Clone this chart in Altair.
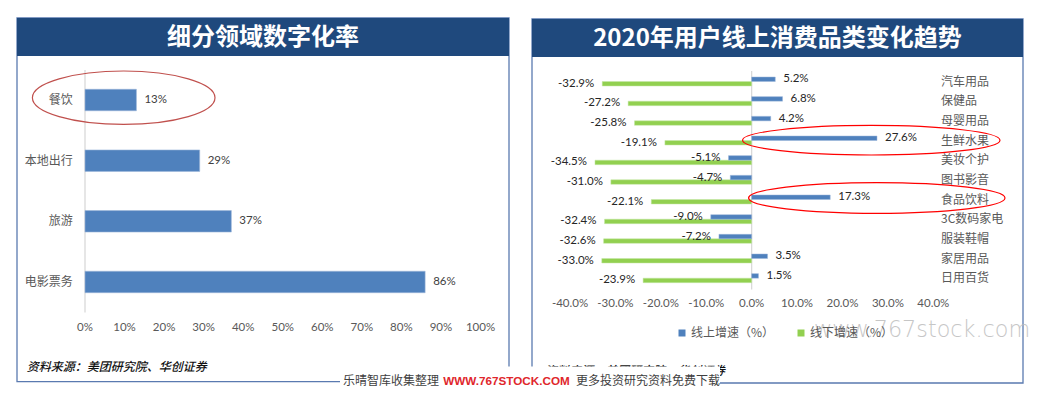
import altair as alt
import pandas as pd

# ---------------- data ----------------
left_categories = ["餐饮", "本地出行", "旅游", "电影票务"]
left_values = [13, 29, 37, 86]
left_ticks = [0, 10, 20, 30, 40, 50, 60, 70, 80, 90, 100]

right_categories = ["汽车用品", "保健品", "母婴用品", "生鲜水果", "美妆个护", "图书影音",
                    "食品饮料", "3C数码家电", "服装鞋帽", "家居用品", "日用百货"]
online_growth = [5.2, 6.8, 4.2, 27.6, -5.1, -4.7, 17.3, -9.0, -7.2, 3.5, 1.5]
offline_growth = [-32.9, -27.2, -25.8, -19.1, -34.5, -31.0, -22.1, -32.4, -32.6, -33.0, -23.9]
right_ticks = [-40, -30, -20, -10, 0, 10, 20, 30, 40]
series_names = ["线上增速（%）", "线下增速（%）"]

left_title = "细分领域数字化率"
right_title = "2020年用户线上消费品类变化趋势"
source_text = "资料来源：美团研究院、华创证券"
footer_a = "乐晴智库收集整理"
footer_b = "WWW.767STOCK.COM"
footer_c = "更多投资研究资料免费下载"
watermark = "www.767stock.com"

# ---------------- tables ----------------
left_df = pd.DataFrame({"cat": left_categories, "v": left_values,
                        "lab": [f"{v}%" for v in left_values]})
left_tick_df = pd.DataFrame({"t": left_ticks, "lab": [f"{t}%" for t in left_ticks]})
on_df = pd.DataFrame({"cat": right_categories, "v": online_growth, "s": series_names[0],
                      "lab": [f"{v:.1f}%" for v in online_growth]})
off_df = pd.DataFrame({"cat": right_categories, "v": offline_growth, "s": series_names[1],
                       "lab": [f"{v:.1f}%" for v in offline_growth]})
right_tick_df = pd.DataFrame({"t": right_ticks, "lab": [f"{t:.1f}%" for t in right_ticks]})
cat_df = pd.DataFrame({"cat": right_categories})
zero_df = pd.DataFrame({"v": [0]})
one = pd.DataFrame({"a": [0]})

CJK = "Noto Sans CJK SC"
NUM = "Lato"
BLUE = "#4F81BD"
GREEN = "#92D050"
NAVY = "#1F497D"
BORDER = "#5A7AB0"
GREY_TXT = "#595959"

# ---------------- scales ----------------
LX = alt.Scale(domain=[0, 100], range=[77, 472.5], nice=False)
LY = alt.Scale(domain=left_categories, range=[61.7, 304.3], paddingInner=0.646, paddingOuter=0.323)
RX = alt.Scale(domain=[-40, 40], range=[562, 925.3], nice=False)
r0, r1 = 63.67, 280.0
RY_slot = alt.Scale(domain=right_categories, range=[r0, r1], paddingInner=0.5, paddingOuter=0.25)
RY_on = alt.Scale(domain=right_categories, range=[r0 - 2.25, r1 - 2.25], paddingInner=0.771, paddingOuter=0.3855)
RY_off = alt.Scale(domain=right_categories, range=[r0 + 2.25, r1 + 2.25], paddingInner=0.771, paddingOuter=0.3855)
CS = alt.Scale(domain=series_names, range=[BLUE, GREEN])

layers = []

# panel borders
for x0, x1, y0, y1 in [(9, 501, 10, 373.7), (524, 1015, 11, 375)]:
    layers.append(alt.Chart(one).mark_rect(filled=False, stroke=BORDER, strokeWidth=1.3).encode(
        x=alt.value(x0), x2=alt.value(x1), y=alt.value(y0), y2=alt.value(y1)))
# title bars
for x0, x1, y0, y1 in [(9, 501, 10, 48), (524, 1015, 11, 49)]:
    layers.append(alt.Chart(one).mark_rect(color=NAVY).encode(
        x=alt.value(x0), x2=alt.value(x1), y=alt.value(y0), y2=alt.value(y1)))
for t, cx, cy in [(left_title, 255, 29.5), (right_title, 769.5, 30.5)]:
    layers.append(alt.Chart(one).mark_text(text=t, font=CJK, fontSize=24, fontWeight="bold",
                                           color="white", align="center", baseline="middle").encode(
        x=alt.value(cx), y=alt.value(cy)))

# ---------- left panel ----------
layers.append(alt.Chart(zero_df).mark_rule(color="#D9D9D9", strokeWidth=1.3).encode(
    x=alt.X("v:Q", scale=LX, axis=None), y=alt.value(62), y2=alt.value(304.5)))
layers.append(alt.Chart(left_df).mark_bar(color=BLUE, stroke="#9DB7DA", strokeWidth=0.6).encode(
    x=alt.X("v:Q", scale=LX, axis=None), y=alt.Y("cat:N", scale=LY, axis=None)))
layers.append(alt.Chart(left_df).mark_text(align="left", baseline="middle", dx=8, font=NUM,
                                           fontSize=11.5, color="#404040").encode(
    x=alt.X("v:Q", scale=LX, axis=None), y=alt.Y("cat:N", scale=LY, axis=None), text="lab:N"))
layers.append(alt.Chart(left_df).mark_text(align="right", baseline="middle", font=CJK,
                                           fontSize=12, color=GREY_TXT).encode(
    x=alt.value(64.7), y=alt.Y("cat:N", scale=LY, axis=None), text="cat:N"))
layers.append(alt.Chart(left_tick_df).mark_text(align="center", baseline="middle", font=NUM,
                                                fontSize=11.5, color=GREY_TXT).encode(
    x=alt.X("t:Q", scale=LX, axis=None), y=alt.value(320.3), text="lab:N"))
layers.append(alt.Chart(one).mark_text(text=source_text, align="left", baseline="middle", font=CJK,
                                       fontSize=12, fontStyle="italic", fontWeight=500, color="#111111").encode(
    x=alt.value(18.7), y=alt.value(358.7)))

# ---------- right panel ----------
layers.append(alt.Chart(zero_df).mark_rule(color="#D9D9D9", strokeWidth=1.3).encode(
    x=alt.X("v:Q", scale=RX, axis=None), y=alt.value(63), y2=alt.value(281.5)))
layers.append(alt.Chart(off_df).mark_bar(stroke="#C5E6A6", strokeWidth=0.5).encode(
    x=alt.X("v:Q", scale=RX, axis=None), y=alt.Y("cat:N", scale=RY_off, axis=None),
    color=alt.Color("s:N", scale=CS, legend=None)))
layers.append(alt.Chart(on_df).mark_bar(stroke="#9DB7DA", strokeWidth=0.5).encode(
    x=alt.X("v:Q", scale=RX, axis=None), y=alt.Y("cat:N", scale=RY_on, axis=None),
    color=alt.Color("s:N", scale=CS, legend=alt.Legend(
        orient="none", legendX=668, legendY=319, direction="horizontal", title=None,
        symbolType="square", symbolSize=49, symbolStrokeWidth=0, labelFont=CJK,
        labelFontSize=12, labelColor=GREY_TXT, columnPadding=20, labelOffset=3, padding=0))))
for df, sc in [(off_df, RY_off), (on_df, RY_on)]:
    layers.append(alt.Chart(df).transform_filter("datum.v >= 0").mark_text(
        align="left", baseline="middle", dx=8, font=NUM, fontSize=11.5, color="#262626").encode(
        x=alt.X("v:Q", scale=RX, axis=None), y=alt.Y("cat:N", scale=sc, axis=None), text="lab:N"))
    layers.append(alt.Chart(df).transform_filter("datum.v < 0").mark_text(
        align="right", baseline="middle", dx=-8, font=NUM, fontSize=11.5, color="#262626").encode(
        x=alt.X("v:Q", scale=RX, axis=None), y=alt.Y("cat:N", scale=sc, axis=None), text="lab:N"))
layers.append(alt.Chart(cat_df).mark_text(align="left", baseline="middle", font=CJK,
                                          fontSize=12, color=GREY_TXT).encode(
    x=alt.value(933), y=alt.Y("cat:N", scale=RY_slot, axis=None), text="cat:N"))
layers.append(alt.Chart(right_tick_df).mark_text(align="center", baseline="middle", font=NUM,
                                                 fontSize=11.5, color=GREY_TXT).encode(
    x=alt.X("t:Q", scale=RX, axis=None), y=alt.value(296.3), text="lab:N"))

# annotation ellipses (unit-space path, scaled by size)
def ellipse(cx, cy, rx, ry, color, sw):
    k = ry / rx
    path = f"M -1 0 A 1 {k:.4f} 0 1 1 1 0 A 1 {k:.4f} 0 1 1 -1 0 Z"
    return alt.Chart(one).mark_point(shape=path, size=(2 * rx) ** 2, filled=False,
                                     stroke=color, strokeWidth=sw, opacity=1).encode(
        x=alt.value(cx), y=alt.value(cy))

layers.append(ellipse(115.7, 89.7, 91.3, 26.7, "#C0504D", 1.2))
layers.append(ellipse(863.3, 132.2, 128.7, 14.8, "#FF0000", 1.2))
layers.append(ellipse(868.8, 190.0, 128.2, 15.3, "#FF0000", 1.2))

# right source (mostly hidden under the footer)
layers.append(alt.Chart(one).mark_text(text=source_text, align="left", baseline="middle", font=CJK,
                                       fontSize=12, fontStyle="italic", fontWeight=500, color="#111111").encode(
    x=alt.value(537), y=alt.value(362.5)))

# watermark
layers.append(alt.Chart(one).mark_text(text=watermark, align="left", baseline="alphabetic",
                                       font="DejaVu Sans", fontSize=22.3, fontWeight=300,
                                       color="#BDBDBD", opacity=0.85).encode(
    x=alt.value(806), y=alt.value(329)))

# footer
layers.append(alt.Chart(one).mark_rect(color="white").encode(
    x=alt.value(332), x2=alt.value(712), y=alt.value(358.5), y2=alt.value(380)))
layers.append(alt.Chart(one).mark_text(text=footer_a, align="left", baseline="middle", font=CJK,
                                       fontSize=12, color="#3F3F3F").encode(
    x=alt.value(335), y=alt.value(372.7)))
layers.append(alt.Chart(one).mark_text(text=footer_b, align="left", baseline="middle",
                                       font="Liberation Sans", fontSize=11.7, fontWeight="bold",
                                       color="#E0262B").encode(
    x=alt.value(435.3), y=alt.value(373)))
layers.append(alt.Chart(one).mark_text(text=footer_c, align="left", baseline="middle", font=CJK,
                                       fontSize=12, color="#3F3F3F").encode(
    x=alt.value(568), y=alt.value(372.7)))

chart = alt.layer(*layers).resolve_scale(
    x="independent", y="independent", color="independent"
).properties(
    width=1028, height=380, autosize=alt.AutoSizeParams(type="none"), padding=0
).configure_view(strokeWidth=0)

chart.save("out.html", embed_options={"renderer": "svg", "actions": False})
